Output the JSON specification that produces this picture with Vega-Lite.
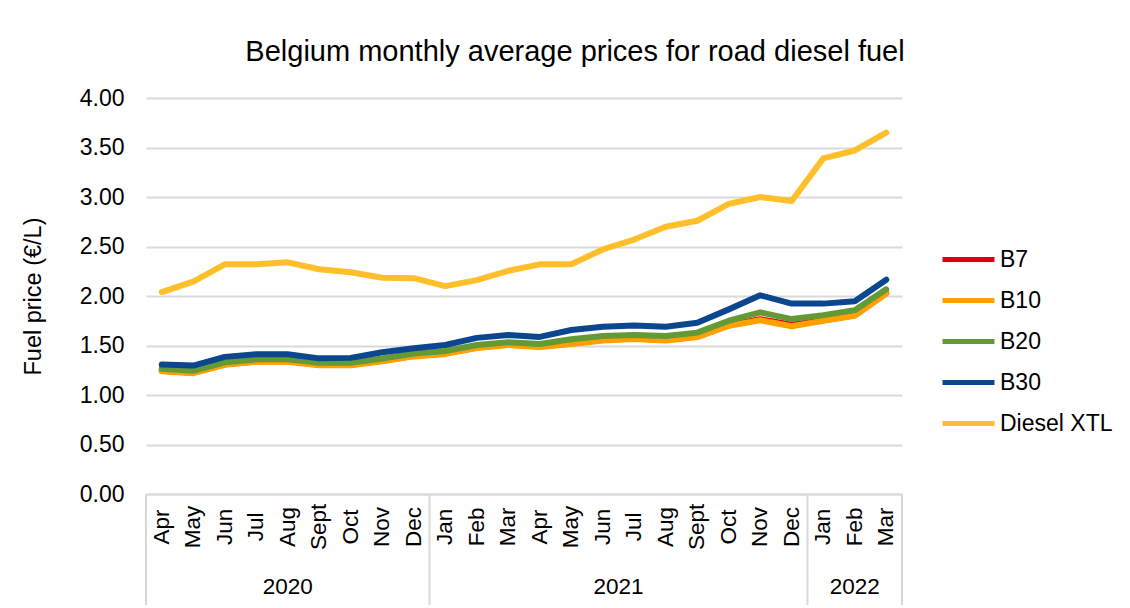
{
  "$schema": "https://vega.github.io/schema/vega-lite/v6.json",
  "width": 756,
  "height": 396,
  "autosize": {"type": "none"},
  "padding": {"left": 146, "top": 98, "right": 228, "bottom": 114},
  "background": "white",
  "config": {
    "font": "Liberation Sans",
    "view": {"stroke": null}
  },
  "title": {
    "text": "Belgium monthly average prices for road diesel fuel",
    "fontSize": 29,
    "fontWeight": "normal",
    "color": "#000000",
    "anchor": "middle",
    "frame": "group",
    "baseline": "alphabetic",
    "dx": 51,
    "dy": 42,
    "offset": 39
  },
  "datasets": {
    "months": [
      {"i": 0, "month": "Apr", "year": "2020"},
      {"i": 1, "month": "May", "year": "2020"},
      {"i": 2, "month": "Jun", "year": "2020"},
      {"i": 3, "month": "Jul", "year": "2020"},
      {"i": 4, "month": "Aug", "year": "2020"},
      {"i": 5, "month": "Sept", "year": "2020"},
      {"i": 6, "month": "Oct", "year": "2020"},
      {"i": 7, "month": "Nov", "year": "2020"},
      {"i": 8, "month": "Dec", "year": "2020"},
      {"i": 9, "month": "Jan", "year": "2021"},
      {"i": 10, "month": "Feb", "year": "2021"},
      {"i": 11, "month": "Mar", "year": "2021"},
      {"i": 12, "month": "Apr", "year": "2021"},
      {"i": 13, "month": "May", "year": "2021"},
      {"i": 14, "month": "Jun", "year": "2021"},
      {"i": 15, "month": "Jul", "year": "2021"},
      {"i": 16, "month": "Aug", "year": "2021"},
      {"i": 17, "month": "Sept", "year": "2021"},
      {"i": 18, "month": "Oct", "year": "2021"},
      {"i": 19, "month": "Nov", "year": "2021"},
      {"i": 20, "month": "Dec", "year": "2021"},
      {"i": 21, "month": "Jan", "year": "2022"},
      {"i": 22, "month": "Feb", "year": "2022"},
      {"i": 23, "month": "Mar", "year": "2022"}
    ],
    "bounds": [
      {"b": -0.5}, {"b": 8.5}, {"b": 20.5}, {"b": 23.5}
    ],
    "prices": [
      {"i": 0, "s": "B7", "p": 1.245}, {"i": 1, "s": "B7", "p": 1.225}, {"i": 2, "s": "B7", "p": 1.31}, {"i": 3, "s": "B7", "p": 1.34},
      {"i": 4, "s": "B7", "p": 1.34}, {"i": 5, "s": "B7", "p": 1.305}, {"i": 6, "s": "B7", "p": 1.305}, {"i": 7, "s": "B7", "p": 1.345},
      {"i": 8, "s": "B7", "p": 1.395}, {"i": 9, "s": "B7", "p": 1.42}, {"i": 10, "s": "B7", "p": 1.48}, {"i": 11, "s": "B7", "p": 1.51},
      {"i": 12, "s": "B7", "p": 1.49}, {"i": 13, "s": "B7", "p": 1.52}, {"i": 14, "s": "B7", "p": 1.555}, {"i": 15, "s": "B7", "p": 1.57},
      {"i": 16, "s": "B7", "p": 1.555}, {"i": 17, "s": "B7", "p": 1.59}, {"i": 18, "s": "B7", "p": 1.705}, {"i": 19, "s": "B7", "p": 1.765},
      {"i": 20, "s": "B7", "p": 1.71}, {"i": 21, "s": "B7", "p": 1.755}, {"i": 22, "s": "B7", "p": 1.805}, {"i": 23, "s": "B7", "p": 2.03},

      {"i": 0, "s": "B10", "p": 1.24}, {"i": 1, "s": "B10", "p": 1.22}, {"i": 2, "s": "B10", "p": 1.305}, {"i": 3, "s": "B10", "p": 1.335},
      {"i": 4, "s": "B10", "p": 1.335}, {"i": 5, "s": "B10", "p": 1.3}, {"i": 6, "s": "B10", "p": 1.3}, {"i": 7, "s": "B10", "p": 1.34},
      {"i": 8, "s": "B10", "p": 1.39}, {"i": 9, "s": "B10", "p": 1.415}, {"i": 10, "s": "B10", "p": 1.475}, {"i": 11, "s": "B10", "p": 1.505},
      {"i": 12, "s": "B10", "p": 1.485}, {"i": 13, "s": "B10", "p": 1.515}, {"i": 14, "s": "B10", "p": 1.55}, {"i": 15, "s": "B10", "p": 1.565},
      {"i": 16, "s": "B10", "p": 1.55}, {"i": 17, "s": "B10", "p": 1.585}, {"i": 18, "s": "B10", "p": 1.7}, {"i": 19, "s": "B10", "p": 1.755},
      {"i": 20, "s": "B10", "p": 1.695}, {"i": 21, "s": "B10", "p": 1.75}, {"i": 22, "s": "B10", "p": 1.8}, {"i": 23, "s": "B10", "p": 2.025},

      {"i": 0, "s": "B20", "p": 1.265}, {"i": 1, "s": "B20", "p": 1.245}, {"i": 2, "s": "B20", "p": 1.33}, {"i": 3, "s": "B20", "p": 1.36},
      {"i": 4, "s": "B20", "p": 1.36}, {"i": 5, "s": "B20", "p": 1.325}, {"i": 6, "s": "B20", "p": 1.325}, {"i": 7, "s": "B20", "p": 1.368},
      {"i": 8, "s": "B20", "p": 1.42}, {"i": 9, "s": "B20", "p": 1.445}, {"i": 10, "s": "B20", "p": 1.505}, {"i": 11, "s": "B20", "p": 1.533},
      {"i": 12, "s": "B20", "p": 1.515}, {"i": 13, "s": "B20", "p": 1.563}, {"i": 14, "s": "B20", "p": 1.597}, {"i": 15, "s": "B20", "p": 1.607},
      {"i": 16, "s": "B20", "p": 1.597}, {"i": 17, "s": "B20", "p": 1.63}, {"i": 18, "s": "B20", "p": 1.75}, {"i": 19, "s": "B20", "p": 1.835},
      {"i": 20, "s": "B20", "p": 1.767}, {"i": 21, "s": "B20", "p": 1.807}, {"i": 22, "s": "B20", "p": 1.857}, {"i": 23, "s": "B20", "p": 2.067},

      {"i": 0, "s": "B30", "p": 1.307}, {"i": 1, "s": "B30", "p": 1.297}, {"i": 2, "s": "B30", "p": 1.385}, {"i": 3, "s": "B30", "p": 1.412},
      {"i": 4, "s": "B30", "p": 1.412}, {"i": 5, "s": "B30", "p": 1.37}, {"i": 6, "s": "B30", "p": 1.375}, {"i": 7, "s": "B30", "p": 1.432},
      {"i": 8, "s": "B30", "p": 1.473}, {"i": 9, "s": "B30", "p": 1.505}, {"i": 10, "s": "B30", "p": 1.577}, {"i": 11, "s": "B30", "p": 1.605},
      {"i": 12, "s": "B30", "p": 1.587}, {"i": 13, "s": "B30", "p": 1.657}, {"i": 14, "s": "B30", "p": 1.69}, {"i": 15, "s": "B30", "p": 1.703},
      {"i": 16, "s": "B30", "p": 1.69}, {"i": 17, "s": "B30", "p": 1.73}, {"i": 18, "s": "B30", "p": 1.865}, {"i": 19, "s": "B30", "p": 2.007},
      {"i": 20, "s": "B30", "p": 1.923}, {"i": 21, "s": "B30", "p": 1.923}, {"i": 22, "s": "B30", "p": 1.947}, {"i": 23, "s": "B30", "p": 2.165},

      {"i": 0, "s": "Diesel XTL", "p": 2.04}, {"i": 1, "s": "Diesel XTL", "p": 2.145}, {"i": 2, "s": "Diesel XTL", "p": 2.32}, {"i": 3, "s": "Diesel XTL", "p": 2.32},
      {"i": 4, "s": "Diesel XTL", "p": 2.34}, {"i": 5, "s": "Diesel XTL", "p": 2.27}, {"i": 6, "s": "Diesel XTL", "p": 2.24}, {"i": 7, "s": "Diesel XTL", "p": 2.185},
      {"i": 8, "s": "Diesel XTL", "p": 2.18}, {"i": 9, "s": "Diesel XTL", "p": 2.1}, {"i": 10, "s": "Diesel XTL", "p": 2.16}, {"i": 11, "s": "Diesel XTL", "p": 2.255},
      {"i": 12, "s": "Diesel XTL", "p": 2.32}, {"i": 13, "s": "Diesel XTL", "p": 2.32}, {"i": 14, "s": "Diesel XTL", "p": 2.47}, {"i": 15, "s": "Diesel XTL", "p": 2.57},
      {"i": 16, "s": "Diesel XTL", "p": 2.7}, {"i": 17, "s": "Diesel XTL", "p": 2.76}, {"i": 18, "s": "Diesel XTL", "p": 2.93}, {"i": 19, "s": "Diesel XTL", "p": 3.0},
      {"i": 20, "s": "Diesel XTL", "p": 2.96}, {"i": 21, "s": "Diesel XTL", "p": 3.39}, {"i": 22, "s": "Diesel XTL", "p": 3.47}, {"i": 23, "s": "Diesel XTL", "p": 3.65}
    ]
  },
  "layer": [
    {
      "data": {"name": "prices"},
      "mark": {"type": "line", "strokeWidth": 6, "strokeCap": "round", "strokeJoin": "round"},
      "encoding": {
        "x": {
          "field": "i",
          "type": "quantitative",
          "scale": {"domain": [-0.5, 23.5], "nice": false, "zero": false},
          "axis": {
            "title": null,
            "labels": false,
            "ticks": false,
            "grid": false,
            "domainColor": "#d9d9d9",
            "domainWidth": 2
          }
        },
        "y": {
          "field": "p",
          "type": "quantitative",
          "scale": {"domain": [0, 4], "nice": false},
          "axis": {
            "title": "Fuel price (€/L)",
            "titleFontSize": 23.5,
            "titleFontWeight": "normal",
            "titleColor": "#000000",
            "titleX": -113,
            "titleY": 198,
            "titleAngle": 270,
            "titleAlign": "center",
            "titleBaseline": "middle",
            "values": [0, 0.5, 1, 1.5, 2, 2.5, 3, 3.5, 4],
            "format": ".2f",
            "labelFontSize": 23,
            "labelColor": "#000000",
            "labelPadding": 22,
            "ticks": false,
            "domain": false,
            "gridColor": "#d9d9d9",
            "gridWidth": 2
          }
        },
        "color": {
          "field": "s",
          "type": "nominal",
          "scale": {
            "domain": ["B7", "B10", "B20", "B30", "Diesel XTL"],
            "range": ["#E0000B", "#FFA000", "#639A36", "#0B468F", "#FFBF2B"]
          },
          "legend": {
            "title": null,
            "orient": "none",
            "legendX": 794,
            "legendY": 133,
            "symbolType": "stroke",
            "symbolSize": 2700,
            "symbolStrokeWidth": 5,
            "labelFontSize": 23,
            "labelColor": "#000000",
            "labelOffset": 3,
            "rowPadding": -7
          }
        }
      }
    },
    {
      "data": {"name": "bounds"},
      "mark": {"type": "rule", "color": "#d9d9d9", "strokeWidth": 2},
      "encoding": {
        "x": {"field": "b", "type": "quantitative"},
        "y": {"datum": 0},
        "y2": {"datum": -1.12}
      }
    },
    {
      "data": {"name": "months"},
      "mark": {"type": "text", "fontSize": 22.5, "color": "#000000", "angle": 270, "baseline": "middle", "align": "center"},
      "encoding": {
        "x": {"field": "i", "type": "quantitative"},
        "y": {"datum": -0.333},
        "text": {"field": "month", "type": "nominal"}
      }
    },
    {
      "data": {"name": "months"},
      "mark": {"type": "text", "fontSize": 22.5, "color": "#000000", "baseline": "middle", "align": "center"},
      "encoding": {
        "x": {"field": "i", "type": "quantitative", "aggregate": "mean"},
        "y": {"datum": -0.94},
        "text": {"field": "year", "type": "nominal"}
      }
    }
  ]
}
